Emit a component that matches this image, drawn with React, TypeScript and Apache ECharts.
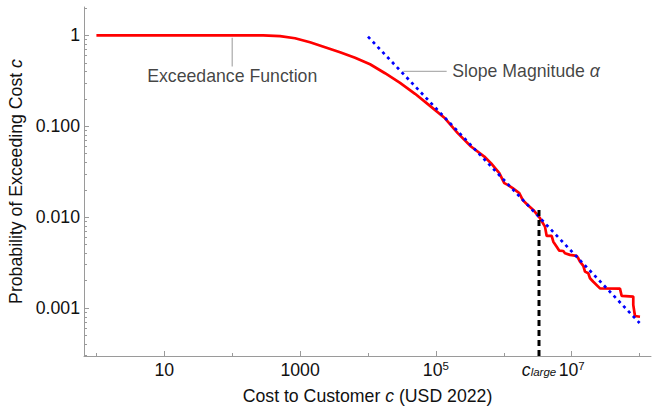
import React, { useEffect, useRef } from "react";
import * as echarts from "echarts";

// ---------- data ----------
const costUSD = [
  1, 285, 506, 841, 1400, 2328, 3873, 6442, 10715, 17820, 29650, 49300, 81850,
  136100, 209500, 328800, 516000, 647000, 859000, 1017000, 1140000, 1352000,
  1690000, 1897000, 2250000, 2720000, 3410000, 4040000, 4280000, 5070000,
  5360000, 6010000, 6570000, 7520000, 7960000, 9430000, 11850000, 12500000,
  13250000, 14830000, 15700000, 17550000, 18600000, 20800000, 26100000,
  51400000, 54500000, 80700000, 80700000, 85500000, 101400000,
];
const exceedProb = [
  1, 1, 0.982, 0.931, 0.841, 0.741, 0.653, 0.568, 0.482, 0.384, 0.301, 0.228, 0.168,
  0.1225, 0.0841, 0.06, 0.0465, 0.0393, 0.0305, 0.0237, 0.0227, 0.0209,
  0.0184, 0.0155, 0.01365, 0.01202, 0.00975, 0.00788, 0.00622, 0.00622,
  0.00538, 0.00474, 0.00428, 0.00425, 0.00401, 0.00385, 0.00375, 0.00353,
  0.00324, 0.00291, 0.00252, 0.00242, 0.00213, 0.00195, 0.00165,
  0.00164, 0.00136, 0.00134, 0.00108, 0.000818, 0.000804,
];

// power-law fit (slope magnitude alpha)
const slopeCost = [1e4, 1e8];
const slopeProb = [0.97, 0.000685];

// c_large threshold
const cLarge = 3.3e6;
const cLargeTopProb = 0.0132;

// annotation leader lines
const exceedLeaderCost = [100, 100];
const exceedLeaderProb = [0.945, 0.456];
const slopeLeaderCost = [33100, 144000];
const slopeLeaderProb = [0.402, 0.402];

// axis ticks
const xLabelExps = [1, 3, 5, 7];
const xLabelBase = ["10", "1000", "10", "10"];
const xLabelSup = ["", "", "5", "7"];
const xMinorExps = [0, 2, 4, 6, 8];
const yLabelExps = [0, -1, -2, -3];
const yLabelTexts = ["1", "0.100", "0.010", "0.001"];

// axis extents (log10)
const X_MIN_EXP = -0.183;
const X_MAX_EXP = 8.168;
const Y_MIN_EXP = -3.527;
const Y_MAX_EXP = 0.313;

const FONT = "'Liberation Sans', Arial, Helvetica, sans-serif";
const FS = 17.7;
const AXIS_GRAY = "#9a9a9a";
const TEXT = "#111111";

const L = (v: number) => Math.log10(v);

function yMinorExps(): number[] {
  const out: number[] = [];
  for (let n = -4; n <= 0; n++) {
    for (let k = 2; k <= 9; k++) {
      const e = n + Math.log10(k);
      if (e > Y_MIN_EXP && e < Y_MAX_EXP) out.push(e);
    }
  }
  return out;
}

export default function App() {
  const ref = useRef<HTMLDivElement>(null);

  useEffect(() => {
    if (!ref.current) return;
    const chart = echarts.init(ref.current, undefined, { renderer: "svg" });

    const redData = costUSD.map((c, i) => [L(c), L(exceedProb[i])]);
    const blueData = slopeCost.map((c, i) => [L(c), L(slopeProb[i])]);
    const blackData = [
      [L(cLarge), Y_MIN_EXP],
      [L(cLarge), L(cLargeTopProb)],
    ];
    const leader1 = exceedLeaderCost.map((c, i) => [L(c), L(exceedLeaderProb[i])]);
    const leader2 = slopeLeaderCost.map((c, i) => [L(c), L(slopeLeaderProb[i])]);
    const cLargeExp = L(cLarge);

    const baseRich = {
      b: { fontSize: FS, lineHeight: FS, padding: [3, 0, 0, 0], color: TEXT, fontFamily: FONT },
      sup: { fontSize: 11.5, lineHeight: 11.5, verticalAlign: "top", color: TEXT, fontFamily: FONT },
      ci: { fontSize: FS, lineHeight: FS, padding: [3, 0, 0, 0], fontStyle: "italic", color: TEXT, fontFamily: FONT },
      cs: { fontSize: 11.5, lineHeight: 11.5, verticalAlign: "bottom", fontStyle: "italic", color: TEXT, fontFamily: FONT },
    };

    const gridBox = { left: 84, right: 11, top: 7, bottom: 55, containLabel: false, outerBoundsMode: "none" };

    const option: any = {
      animation: false,
      backgroundColor: "#ffffff",
      textStyle: { fontFamily: FONT },
      grid: [gridBox, { ...gridBox }],
      xAxis: [
        {
          type: "value",
          gridIndex: 0,
          position: "bottom",
          min: X_MIN_EXP,
          max: X_MAX_EXP,
          axisLine: { show: true, onZero: false, lineStyle: { color: AXIS_GRAY, width: 1 } },
          axisTick: { show: true, inside: true, length: 5, customValues: xLabelExps, lineStyle: { color: AXIS_GRAY } },
          axisLabel: {
            show: true,
            customValues: [...xLabelExps, cLargeExp],
            margin: 4,
            formatter: (v: number) => {
              if (Math.abs(v - cLargeExp) < 1e-6) return "{ci|c}{cs|large}";
              const idx = xLabelExps.findIndex((e) => Math.abs(e - v) < 1e-6);
              if (idx < 0) return "";
              return "{b|" + xLabelBase[idx] + "}" + (xLabelSup[idx] ? "{sup|" + xLabelSup[idx] + "}" : "");
            },
            rich: baseRich,
          },
          splitLine: { show: false },
          name: "Cost to Customer {i|c} (USD 2022)",
          nameLocation: "middle",
          nameGap: 31,
          nameTextStyle: {
            fontSize: FS,
            color: TEXT,
            fontFamily: FONT,
            rich: { i: { fontSize: FS, fontStyle: "italic", color: TEXT, fontFamily: FONT } },
          },
        },
        {
          type: "value",
          gridIndex: 1,
          position: "bottom",
          min: X_MIN_EXP,
          max: X_MAX_EXP,
          axisLine: { show: false, onZero: false },
          axisTick: { show: true, inside: true, length: 3, customValues: xMinorExps, lineStyle: { color: AXIS_GRAY } },
          axisLabel: { show: false },
          splitLine: { show: false },
        },
      ],
      yAxis: [
        {
          type: "value",
          gridIndex: 0,
          position: "left",
          min: Y_MIN_EXP,
          max: Y_MAX_EXP,
          axisLine: { show: true, onZero: false, lineStyle: { color: AXIS_GRAY, width: 1 } },
          axisTick: { show: true, inside: true, length: 5, customValues: yLabelExps, lineStyle: { color: AXIS_GRAY } },
          axisLabel: {
            show: true,
            customValues: yLabelExps,
            margin: 4,
            fontSize: FS,
            color: TEXT,
            fontFamily: FONT,
            formatter: (v: number) => {
              const idx = yLabelExps.findIndex((e) => Math.abs(e - v) < 1e-6);
              return idx < 0 ? "" : yLabelTexts[idx];
            },
          },
          splitLine: { show: false },
          name: "Probability of Exceeding Cost {i|c}",
          nameLocation: "middle",
          nameGap: 53,
          nameRotate: 90,
          nameTextStyle: {
            fontSize: FS,
            color: TEXT,
            fontFamily: FONT,
            rich: { i: { fontSize: FS, fontStyle: "italic", color: TEXT, fontFamily: FONT } },
          },
        },
        {
          type: "value",
          gridIndex: 1,
          position: "left",
          min: Y_MIN_EXP,
          max: Y_MAX_EXP,
          axisLine: { show: false, onZero: false },
          axisTick: { show: true, inside: true, length: 3, customValues: yMinorExps(), lineStyle: { color: AXIS_GRAY } },
          axisLabel: { show: false },
          splitLine: { show: false },
        },
      ],
      series: [
        {
          name: "Exceedance Function",
          type: "line",
          data: redData,
          symbol: "none",
          lineStyle: { color: "#ff0000", width: 2.7 },
          z: 3,
        },
        {
          name: "Power law",
          type: "line",
          data: blueData,
          symbol: "none",
          lineStyle: { color: "#0000ff", width: 2.7, type: [3, 4] },
          z: 4,
        },
        {
          name: "c_large",
          type: "line",
          data: blackData,
          symbol: "none",
          lineStyle: { color: "#000000", width: 3, type: [6, 4] },
          z: 5,
        },
        {
          name: "leader1",
          type: "line",
          data: leader1,
          symbol: "none",
          lineStyle: { color: "#b0b0b0", width: 1.3 },
          z: 2,
        },
        {
          name: "leader2",
          type: "line",
          data: leader2,
          symbol: "none",
          lineStyle: { color: "#b0b0b0", width: 1.3 },
          z: 2,
        },
        {
          name: "labels",
          type: "scatter",
          symbolSize: 1,
          itemStyle: { color: "rgba(0,0,0,0)" },
          z: 6,
          data: [
            {
              value: leader1[1],
              label: {
                show: true,
                position: "bottom",
                distance: 0,
                formatter: "Exceedance Function",
                fontSize: FS,
                color: TEXT,
                fontFamily: FONT,
              },
            },
            {
              value: leader2[1],
              label: {
                show: true,
                position: "right",
                distance: 5,
                formatter: "Slope Magnitude {a|α}",
                fontSize: FS,
                color: TEXT,
                fontFamily: FONT,
                rich: { a: { fontSize: FS, fontStyle: "italic", color: TEXT, fontFamily: FONT } },
              },
            },
          ],
        },
      ],
    };

    chart.setOption(option);
    return () => chart.dispose();
  }, []);

  return (
    <div
      ref={ref}
      style={{ position: "absolute", left: 0, top: 0, width: 662, height: 411, background: "#fff" }}
    />
  );
}
